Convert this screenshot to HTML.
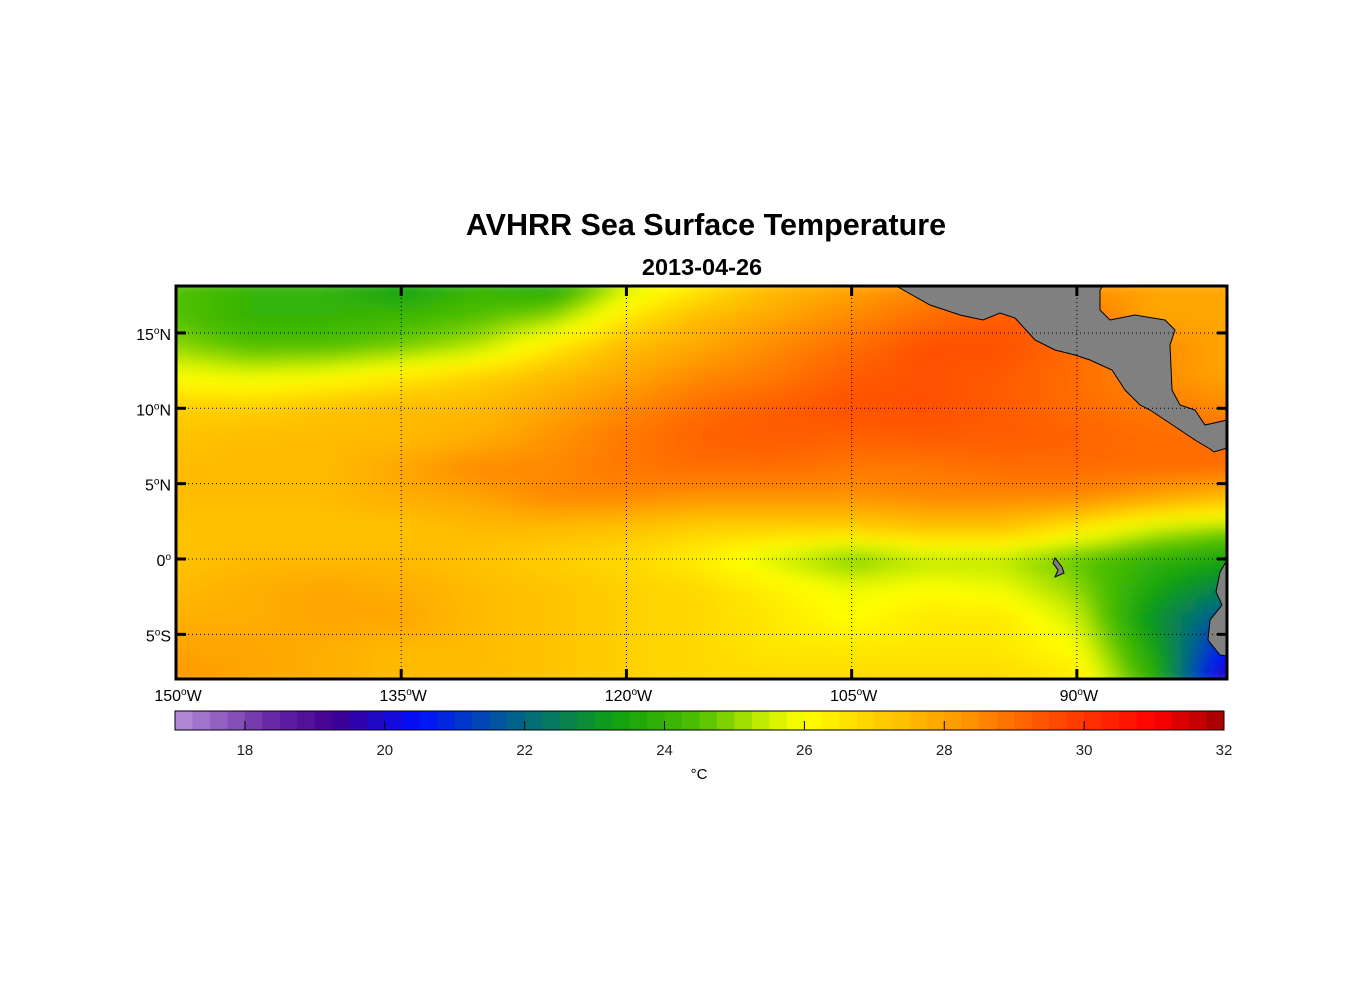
<!DOCTYPE html>
<html><head><meta charset="utf-8"><style>
body{margin:0;background:#fff;width:1356px;height:1000px;overflow:hidden;font-family:"Liberation Sans",sans-serif}
svg{position:absolute;left:0;top:0}
</style></head><body>
<svg id="s" width="1356" height="1000" xmlns="http://www.w3.org/2000/svg">
<defs><filter id="bl" x="0" y="0" width="1" height="1"><feGaussianBlur stdDeviation="7" edgeMode="duplicate"/></filter>
<clipPath id="cp"><rect x="176" y="286" width="1051" height="393"/></clipPath></defs>
<text x="706" y="235" text-anchor="middle" font-size="30.5" font-weight="bold">AVHRR Sea Surface Temperature</text>
<text x="702" y="275" text-anchor="middle" font-size="23.5" font-weight="bold">2013-04-26</text>
<g id="heat" clip-path="url(#cp)"><g id="cells" filter="url(#bl)"></g></g>
<g id="land"></g>
<g id="grid"></g>
<rect x="176" y="286" width="1051" height="393" fill="none" stroke="#000" stroke-width="3"/>
<g id="axes" font-size="16"></g>
<g id="cbar"></g>
<text x="699" y="779" text-anchor="middle" font-size="15">°C</text>
</svg>
<script>
const lons=[150,145,140,135,130,125,120,115,110,105,100,95,90,85,80];
const lats=[18,16,14,12,10,8,6,4,2,0,-2,-4,-6,-8];
const sst=[
[24.5,24,24,23.3,24,23.6,25.5,26.5,27.5,28,28.5,28.5,28.3,28,28],
[24.5,24,24,24.2,24.5,25,26.5,27.5,28,28.5,29,29.3,29,28,28],
[25,24.5,24.5,24.8,25.3,26.5,27.5,28,28.5,29,29.5,29.5,29,28.5,28],
[26,25.8,26,26.5,27,27.5,28,28.5,28.8,29.3,29.5,29.3,29,28.5,28],
[27,27,27.3,27.5,27.5,28,28.5,29,29.3,29.5,29.5,29.3,29,28.8,28.5],
[27.3,27.5,27.5,27.5,27.8,28.3,28.8,29.2,29.3,29.2,29.3,29.3,29.2,29,29],
[27.5,27.5,27.5,28,28.5,28.5,28.8,29,29,28.8,28.8,29,29,29,29],
[27.5,27.5,27.5,27.8,28,28.5,28.5,28.3,28.3,28.3,28.5,28.5,28.5,28,27.5],
[27.3,27.3,27.3,27.3,27.5,27.5,27.3,27,27,27,27.3,27.3,26.5,25.5,25],
[27.3,27.5,27.5,27.5,27.3,27,26.8,26.3,25.5,24.8,25.3,25.3,24.6,24,23.5],
[27.5,27.8,28,27.8,27.5,27.3,27,26.8,26.3,25.8,26,25.8,25,23.5,22.5],
[27.8,27.8,28,28,27.5,27.3,27,26.8,26.5,26,26.5,26.5,25.5,23,21.5],
[28,28,27.8,27.5,27.5,27.3,27,26.8,26.5,26.5,26.5,26.5,26,23.5,20.5],
[28.3,28,27.8,27.5,27.5,27.3,27,26.8,26.8,26.8,26.8,26.8,26.5,24,19.5]];
const cbTicks=[18,20,22,24,26,28,30,32];
const lonTicks=[150,135,120,105,90];
const latTicks=[15,10,5,0,-5];
const cmapStops=[[17,"#b890d8"],[18.5,"#6020a0"],[19.3,"#400090"],[20.5,"#0010ff"],[22,"#006a80"],[23.3,"#10a010"],[24.5,"#50c000"],[25.5,"#d0f000"],[26,"#ffff00"],[27,"#ffd000"],[28,"#ffa500"],[29.5,"#ff5000"],[31,"#ff0000"],[32,"#a00000"]];
const X=lon=>176+(150-lon)*1051/70;
const Y=lat=>559-lat*15.07;
const CB=v=>175+(v-17)*1049/15;
function hex(h){return [1,3,5].map(i=>parseInt(h.substr(i,2),16));}
function cmap(v){
 if(v<=cmapStops[0][0])return cmapStops[0][1];
 for(let i=1;i<cmapStops.length;i++){if(v<=cmapStops[i][0]){const a=cmapStops[i-1],b=cmapStops[i],t=(v-a[0])/(b[0]-a[0]);const A=hex(a[1]),B=hex(b[1]);return "rgb("+A.map((c,k)=>Math.round(c+(B[k]-c)*t)).join(",")+")";}}
 return cmapStops[cmapStops.length-1][1];}
function val(lon,lat){
 let fi=(18-lat)/2, fj=(150-lon)/5;
 fi=Math.max(0,Math.min(lats.length-1.001,fi));fj=Math.max(0,Math.min(lons.length-1.001,fj));
 const i=Math.floor(fi),j=Math.floor(fj),a=fi-i,b=fj-j;
 return sst[i][j]*(1-a)*(1-b)+sst[i+1][j]*a*(1-b)+sst[i][j+1]*(1-a)*b+sst[i+1][j+1]*a*b;}
const NS="http://www.w3.org/2000/svg";
function mk(tag,at,par){const e=document.createElementNS(NS,tag);for(const k in at)e.setAttribute(k,at[k]);par.appendChild(e);return e;}
const cells=document.getElementById('cells');
for(let lat=18.5;lat>-8.5;lat-=0.5){for(let lon=151;lon>79;lon-=1){
 const r=mk('rect',{x:X(lon)-0.5,y:Y(lat)-0.5,width:1051/70+1,height:15.07/2+1,fill:cmap(val(lon-0.5,lat-0.25))},cells);
 
 }}
const land=document.getElementById('land');
const polys=[
["central-america","898,287 930,305 960,315 983,320 1000,313 1015,318 1035,340 1055,350 1075,355 1090,360 1112,370 1125,390 1140,405 1150,410 1165,420 1180,430 1195,440 1210,449 1214,452 1227,448 1227,420 1205,425 1195,410 1180,405 1172,390 1170,345 1175,330 1165,320 1135,315 1110,320 1100,310 1100,290 1103,286"],
["south-america","1227,560 1220,572 1216,592 1222,605 1210,620 1208,640 1220,655 1227,656"],
["galapagos","1055,558 1062,567 1064,573 1055,577 1058,570 1053,563"]];
polys.forEach(p=>{const e=mk('polygon',{points:p[1],fill:"#808080",stroke:"#000","stroke-width":1},land);
 });
const grid=document.getElementById('grid'),axes=document.getElementById('axes');
lonTicks.forEach(l=>{const x=X(l);
 if(l<150){const g=mk('line',{x1:x,y1:286,x2:x,y2:679,stroke:"#000","stroke-width":1,"stroke-dasharray":"1,3"},grid);
 mk('line',{x1:x,y1:286,x2:x,y2:296,stroke:"#000","stroke-width":3},grid);mk('line',{x1:x,y1:669,x2:x,y2:679,stroke:"#000","stroke-width":3},grid);}
 const t=mk('text',{x:x+2,y:701,"text-anchor":"middle"},axes);t.innerHTML=l+'<tspan dy="-6" font-size="10">o</tspan><tspan dy="6">W</tspan>';
 });
latTicks.forEach(l=>{const y=Y(l);
 const g=mk('line',{x1:176,y1:y,x2:1227,y2:y,stroke:"#000","stroke-width":1,"stroke-dasharray":"1,3"},grid);
 mk('line',{x1:176,y1:y,x2:186,y2:y,stroke:"#000","stroke-width":3},grid);mk('line',{x1:1217,y1:y,x2:1227,y2:y,stroke:"#000","stroke-width":3},grid);
 const t=mk('text',{x:171,y:y+7,"text-anchor":"end"},axes);t.innerHTML=Math.abs(l)+'<tspan dy="-6" font-size="10">o</tspan><tspan dy="6">'+(l>0?'N':l<0?'S':'')+'</tspan>';
 });
const cb=document.getElementById('cbar');
for(let v=17;v<32;v+=0.25){const r=mk('rect',{x:CB(v),y:711,width:1049/60+0.5,height:19,fill:cmap(v+0.125)},cb);}
mk('rect',{x:175,y:711,width:1049,height:19,fill:"none",stroke:"#000","stroke-width":1},cb);
cbTicks.forEach(v=>{const x=CB(v);mk('line',{x1:x,y1:721,x2:x,y2:730,stroke:"#000"},cb);
 const t=mk('text',{x:x,y:755,"text-anchor":"middle","font-size":15,fill:"#222"},cb);t.textContent=v;
 });
</script>
</body></html>
